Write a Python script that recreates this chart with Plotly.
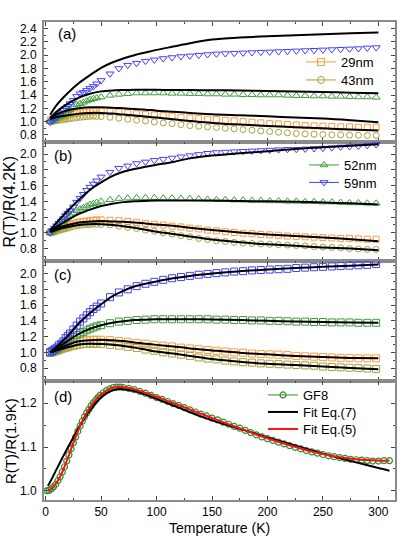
import plotly.graph_objects as go
from plotly.subplots import make_subplots

FONT = "Liberation Sans, Arial, sans-serif"

# ---------------- data ----------------
T_data = [4, 6, 8, 10, 12, 14, 16, 18, 20, 22, 25, 28, 31, 34, 37, 40, 43, 46,
          50, 58, 66, 74, 82, 90, 98, 106, 114, 122, 130, 138, 146, 154, 162, 170,
          178, 186, 194, 202, 210, 218, 226, 234, 242, 250, 258, 266, 274, 282, 290, 298]
T_fit = [4, 10, 20, 30, 40, 50, 60, 70, 80, 90, 100, 115, 130, 150, 175, 200, 225, 250, 275, 300]

# panel (a)
a_29 = [1.02, 1.03, 1.04, 1.05, 1.06, 1.07, 1.08, 1.09, 1.10, 1.11,
        1.12, 1.13, 1.14, 1.145, 1.15, 1.155, 1.155, 1.155,
        1.155, 1.15, 1.14, 1.13, 1.12, 1.11, 1.10, 1.09, 1.08, 1.065,
        1.055, 1.045, 1.035, 1.03, 1.02, 1.01, 1.00, 0.99, 0.98, 0.97,
        0.965, 0.955, 0.95, 0.94, 0.935, 0.93, 0.925, 0.92, 0.92, 0.915,
        0.915, 0.915]
a_43 = [1.00, 1.00, 1.01, 1.015, 1.02, 1.025, 1.03, 1.035, 1.04, 1.045,
        1.05, 1.06, 1.065, 1.07, 1.075, 1.08, 1.08, 1.08,
        1.075, 1.065, 1.05, 1.035, 1.02, 1.01, 0.995, 0.98, 0.97, 0.955,
        0.94, 0.93, 0.92, 0.91, 0.90, 0.89, 0.88, 0.87, 0.86, 0.85,
        0.84, 0.83, 0.82, 0.815, 0.81, 0.805, 0.80, 0.80, 0.795, 0.795,
        0.79, 0.79]
a_52 = [1.00, 1.01, 1.03, 1.05, 1.07, 1.09, 1.11, 1.13, 1.16, 1.18,
        1.22, 1.25, 1.27, 1.29, 1.31, 1.33, 1.345, 1.355,
        1.37, 1.395, 1.41, 1.42, 1.43, 1.43, 1.43, 1.43, 1.425, 1.425,
        1.42, 1.42, 1.415, 1.415, 1.41, 1.41, 1.405, 1.405, 1.40, 1.40,
        1.40, 1.395, 1.39, 1.39, 1.385, 1.385, 1.38, 1.38, 1.375, 1.37,
        1.37, 1.365]
a_59 = [0.99, 1.01, 1.04, 1.07, 1.10, 1.13, 1.17, 1.20, 1.23, 1.27,
        1.32, 1.38, 1.42, 1.44, 1.47, 1.50, 1.53, 1.57,
        1.62, 1.72, 1.80, 1.85, 1.88, 1.91, 1.93, 1.95, 1.965, 1.98,
        1.99, 2.00, 2.01, 2.02, 2.025, 2.03, 2.035, 2.04, 2.045, 2.05,
        2.055, 2.06, 2.065, 2.07, 2.075, 2.08, 2.085, 2.09, 2.095, 2.10,
        2.11, 2.115]
fa_29 = [1.06, 1.11, 1.17, 1.20, 1.215, 1.215, 1.21, 1.20, 1.19, 1.18, 1.165, 1.15, 1.13, 1.11, 1.095, 1.08, 1.06, 1.045, 1.02, 0.99]
fa_43 = [1.04, 1.07, 1.095, 1.12, 1.13, 1.13, 1.12, 1.105, 1.09, 1.075, 1.06, 1.035, 1.01, 0.98, 0.955, 0.935, 0.915, 0.90, 0.88, 0.865]
fa_52 = [1.05, 1.15, 1.27, 1.36, 1.42, 1.455, 1.47, 1.475, 1.478, 1.478, 1.478, 1.476, 1.475, 1.472, 1.468, 1.462, 1.455, 1.445, 1.435, 1.425]
fa_59 = [1.10, 1.25, 1.43, 1.58, 1.70, 1.81, 1.89, 1.95, 2.00, 2.04, 2.08, 2.13, 2.18, 2.235, 2.265, 2.285, 2.30, 2.315, 2.33, 2.34]

# panel (b)
b_29 = [1.01, 1.02, 1.03, 1.04, 1.05, 1.06, 1.075, 1.09, 1.10, 1.11,
        1.12, 1.13, 1.14, 1.145, 1.15, 1.155, 1.16, 1.165,
        1.165, 1.16, 1.155, 1.145, 1.135, 1.12, 1.11, 1.10, 1.085, 1.075,
        1.06, 1.05, 1.035, 1.025, 1.015, 1.005, 0.995, 0.99, 0.98, 0.975,
        0.97, 0.96, 0.955, 0.95, 0.945, 0.94, 0.935, 0.93, 0.93, 0.925,
        0.92, 0.92]
b_43 = [1.00, 1.00, 1.01, 1.02, 1.03, 1.04, 1.045, 1.055, 1.06, 1.07,
        1.08, 1.09, 1.095, 1.10, 1.105, 1.105, 1.11, 1.11,
        1.105, 1.10, 1.085, 1.07, 1.055, 1.035, 1.02, 1.00, 0.985, 0.965,
        0.95, 0.93, 0.915, 0.90, 0.89, 0.88, 0.87, 0.865, 0.86, 0.855,
        0.85, 0.845, 0.84, 0.835, 0.825, 0.82, 0.815, 0.81, 0.80, 0.795,
        0.79, 0.79]
b_52 = [1.00, 1.02, 1.04, 1.06, 1.09, 1.11, 1.14, 1.17, 1.20, 1.22,
        1.25, 1.28, 1.30, 1.32, 1.34, 1.36, 1.37, 1.385,
        1.40, 1.42, 1.435, 1.44, 1.445, 1.445, 1.445, 1.44, 1.44, 1.435,
        1.435, 1.43, 1.425, 1.42, 1.42, 1.415, 1.415, 1.41, 1.41, 1.405,
        1.405, 1.40, 1.40, 1.395, 1.395, 1.39, 1.39, 1.385, 1.38, 1.38,
        1.375, 1.375]
b_59 = [1.00, 1.03, 1.06, 1.09, 1.12, 1.15, 1.18, 1.22, 1.25, 1.28,
        1.33, 1.39, 1.44, 1.49, 1.54, 1.58, 1.62, 1.66,
        1.71, 1.77, 1.82, 1.85, 1.88, 1.90, 1.92, 1.935, 1.95, 1.965,
        1.98, 1.995, 2.01, 2.02, 2.025, 2.03, 2.035, 2.04, 2.045, 2.05,
        2.055, 2.06, 2.06, 2.065, 2.07, 2.075, 2.08, 2.09, 2.095, 2.10,
        2.11, 2.12]
fb_29 = [1.02, 1.06, 1.10, 1.13, 1.145, 1.15, 1.145, 1.14, 1.13, 1.12, 1.105, 1.09, 1.065, 1.035, 1.005, 0.98, 0.96, 0.94, 0.92, 0.895]
fb_43 = [1.01, 1.04, 1.075, 1.10, 1.11, 1.11, 1.10, 1.085, 1.065, 1.04, 1.015, 0.985, 0.955, 0.915, 0.88, 0.855, 0.835, 0.815, 0.80, 0.78]
fb_52 = [1.03, 1.08, 1.165, 1.24, 1.295, 1.34, 1.37, 1.39, 1.40, 1.405, 1.41, 1.41, 1.41, 1.41, 1.405, 1.40, 1.395, 1.385, 1.375, 1.36]
fb_59 = [1.03, 1.13, 1.28, 1.42, 1.545, 1.64, 1.72, 1.775, 1.81, 1.84, 1.865, 1.90, 1.945, 1.98, 2.01, 2.035, 2.065, 2.085, 2.105, 2.125]

# panel (c)
c_29 = [1.00, 1.01, 1.02, 1.03, 1.045, 1.055, 1.07, 1.085, 1.095, 1.105,
        1.12, 1.13, 1.14, 1.15, 1.155, 1.16, 1.16, 1.16,
        1.16, 1.155, 1.145, 1.135, 1.12, 1.11, 1.095, 1.085, 1.075, 1.06,
        1.05, 1.04, 1.03, 1.02, 1.01, 1.00, 0.995, 0.985, 0.98, 0.975,
        0.97, 0.965, 0.955, 0.95, 0.945, 0.94, 0.935, 0.93, 0.93, 0.925,
        0.925, 0.925]
c_43 = [1.00, 1.00, 1.01, 1.02, 1.03, 1.04, 1.05, 1.06, 1.065, 1.075,
        1.085, 1.09, 1.10, 1.105, 1.11, 1.11, 1.11, 1.11,
        1.105, 1.095, 1.085, 1.07, 1.055, 1.035, 1.02, 1.00, 0.985, 0.97,
        0.955, 0.935, 0.92, 0.91, 0.895, 0.885, 0.875, 0.87, 0.86, 0.855,
        0.85, 0.845, 0.84, 0.835, 0.83, 0.82, 0.815, 0.81, 0.805, 0.80,
        0.795, 0.79]
c_52 = [1.00, 1.01, 1.03, 1.04, 1.06, 1.08, 1.10, 1.125, 1.145, 1.165,
        1.19, 1.22, 1.24, 1.26, 1.28, 1.30, 1.315, 1.33,
        1.345, 1.37, 1.39, 1.40, 1.41, 1.415, 1.42, 1.42, 1.42, 1.42,
        1.42, 1.42, 1.42, 1.415, 1.415, 1.41, 1.41, 1.405, 1.405, 1.40,
        1.40, 1.395, 1.39, 1.39, 1.385, 1.385, 1.38, 1.38, 1.38, 1.375,
        1.375, 1.375]
c_59 = [1.00, 1.02, 1.04, 1.06, 1.09, 1.11, 1.14, 1.18, 1.21, 1.24,
        1.29, 1.34, 1.39, 1.43, 1.47, 1.51, 1.55, 1.58,
        1.62, 1.70, 1.76, 1.80, 1.84, 1.87, 1.895, 1.92, 1.94, 1.955,
        1.97, 1.985, 1.995, 2.005, 2.015, 2.025, 2.03, 2.04, 2.045, 2.05,
        2.055, 2.06, 2.07, 2.075, 2.08, 2.085, 2.09, 2.095, 2.10, 2.105,
        2.11, 2.12]
fc_29 = [1.00, 1.03, 1.095, 1.14, 1.155, 1.16, 1.155, 1.145, 1.125, 1.11, 1.095, 1.075, 1.05, 1.025, 0.995, 0.975, 0.955, 0.94, 0.93, 0.925]
fc_43 = [1.00, 1.025, 1.065, 1.10, 1.11, 1.105, 1.095, 1.08, 1.06, 1.035, 1.01, 0.985, 0.955, 0.915, 0.88, 0.855, 0.84, 0.82, 0.80, 0.785]
fc_52 = [1.00, 1.045, 1.145, 1.235, 1.30, 1.345, 1.375, 1.395, 1.41, 1.415, 1.42, 1.42, 1.42, 1.418, 1.41, 1.40, 1.39, 1.385, 1.38, 1.375]
fc_59 = [1.00, 1.07, 1.21, 1.37, 1.50, 1.61, 1.71, 1.78, 1.835, 1.87, 1.90, 1.94, 1.97, 2.00, 2.03, 2.05, 2.07, 2.085, 2.10, 2.115]

# panel (d)
T_gf8 = [1, 3, 5, 7, 9, 11, 13, 15, 17, 19, 21, 23, 25, 27, 29, 31, 33, 35, 37, 39,
         41, 43, 45, 47, 49, 52, 55, 58, 61, 64, 67, 70, 75, 80, 85, 90, 95, 100, 105, 110,
         115, 120, 125, 130, 135, 140, 145, 150, 155, 160, 165, 170, 175, 180, 185, 190, 195, 200, 205, 210,
         215, 220, 225, 230, 235, 240, 245, 250, 255, 260, 265, 270, 275, 280, 285, 290, 295, 300, 305, 310]
gf8 = [1.000, 1.001, 1.004, 1.009, 1.015, 1.023, 1.032, 1.043, 1.055, 1.068,
       1.082, 1.096, 1.110, 1.123, 1.136, 1.148, 1.159, 1.169, 1.178, 1.186,
       1.194, 1.201, 1.207, 1.213, 1.218, 1.224, 1.229, 1.233, 1.236, 1.237,
       1.237, 1.236, 1.234, 1.231, 1.227, 1.223, 1.218, 1.213, 1.209, 1.204,
       1.199, 1.195, 1.190, 1.185, 1.180, 1.175, 1.171, 1.166, 1.162, 1.157,
       1.152, 1.147, 1.143, 1.138, 1.133, 1.128, 1.123, 1.119, 1.115, 1.111,
       1.107, 1.103, 1.099, 1.096, 1.092, 1.089, 1.086, 1.083, 1.080, 1.078,
       1.076, 1.074, 1.072, 1.071, 1.070, 1.069, 1.068, 1.068, 1.069, 1.069]
T_fitd = [2, 5, 10, 15, 20, 25, 30, 35, 40, 45, 50, 55, 60, 65, 70, 80, 90, 100,
          120, 140, 160, 180, 200, 220, 240, 260, 280, 300, 310]
fit_eq5 = [1.000, 1.004, 1.019, 1.043, 1.075, 1.110, 1.142, 1.169, 1.190, 1.207, 1.220, 1.229,
           1.235, 1.237, 1.237, 1.232, 1.224, 1.215, 1.196, 1.176, 1.157, 1.138, 1.120, 1.104,
           1.090, 1.079, 1.072, 1.069, 1.069]
fit_eq7 = [1.011, 1.025, 1.050, 1.075, 1.099, 1.122, 1.145, 1.166, 1.184, 1.200, 1.213, 1.223,
           1.229, 1.232, 1.232, 1.228, 1.220, 1.210, 1.190, 1.170, 1.153, 1.138, 1.122, 1.107,
           1.092, 1.078, 1.065, 1.052, 1.046]

x_ticks = [0, 50, 100, 150, 200, 250, 300]

# ---------------- styles ----------------
C_OR = "#FF9A3C"
C_OL = "#A6A23E"
C_GR = "#3C9C3C"
C_BL = "#3F3FFF"
C_GF = "#2E8F2E"

# page coordinates of the plot area
L, R, TOP, BOT = 44, 395, 22, 500
W, H = R - L, BOT - TOP
FIG_W, FIG_H = 415, 537


def px(x):
    return (x - L) / W


def py(y):
    return (BOT - y) / H


fig = make_subplots(rows=4, cols=1, shared_xaxes=True, vertical_spacing=0)

# name, colour, symbol, legend id, legend x (left), legend row centre y
series_style = [
    ("29nm", C_OR, "square-open", "legend", 301, 62),
    ("43nm", C_OL, "circle-open", "legend2", 301, 80),
    ("52nm", C_GR, "triangle-up-open", "legend3", 304, 165),
    ("59nm", C_BL, "triangle-down-open", "legend4", 304, 182.5),
]

panels = [
    (1, [a_29, a_43, a_52, a_59], [fa_29, fa_43, fa_52, fa_59], False),
    (2, [b_29, b_43, b_52, b_59], [fb_29, fb_43, fb_52, fb_59], False),
    (3, [c_29, c_43, c_52, c_59], [fc_29, fc_43, fc_52, fc_59], True),
]

for row, data, fits, squares in panels:
    for (name, col, sym, lg, lx, ly), ys in zip(series_style, data):
        s = "square-open" if squares else sym
        size = 7 if squares else (7 if "triangle" in sym else 6)
        fig.add_trace(go.Scatter(x=T_data, y=ys, mode="markers", showlegend=False,
                                 marker=dict(symbol=s, size=size, color=col,
                                             line=dict(width=1, color=col))),
                      row=row, col=1)
    for ys in fits:
        fig.add_trace(go.Scatter(x=T_fit, y=ys, mode="lines", showlegend=False,
                                 line=dict(color="black", width=2, shape="spline", smoothing=0.8)),
                      row=row, col=1)

# legend entries (a) and (b)
for name, col, sym, lg, lx, ly in series_style:
    row = 1 if lg in ("legend", "legend2") else 2
    fig.add_trace(go.Scatter(x=[None], y=[None], mode="lines+markers", name=name, legend=lg,
                             marker=dict(symbol=sym, size=7, color=col, line=dict(width=1, color=col)),
                             line=dict(color=col, width=1)),
                  row=row, col=1)

# panel (d)
fig.add_trace(go.Scatter(x=T_gf8, y=gf8, mode="lines+markers", name="GF8", legend="legend5",
                         marker=dict(symbol="circle-open", size=6, color=C_GF, line=dict(width=1.2, color=C_GF)),
                         line=dict(color=C_GF, width=1)), row=4, col=1)
fig.add_trace(go.Scatter(x=T_fitd, y=fit_eq7, mode="lines", name="Fit Eq.(7)", legend="legend6",
                         line=dict(color="black", width=2, shape="spline", smoothing=0.8)), row=4, col=1)
fig.add_trace(go.Scatter(x=T_fitd, y=fit_eq5, mode="lines", name="Fit Eq.(5)", legend="legend7",
                         line=dict(color="#FF1010", width=2, shape="spline", smoothing=0.8)), row=4, col=1)

# ---------------- axes ----------------
axis_common = dict(showline=True, linecolor="#8a8a8a", linewidth=2, mirror="ticks",
                   ticks="inside", ticklen=4, tickwidth=1, tickcolor="#444",
                   showgrid=False, zeroline=False,
                   tickfont=dict(family=FONT, size=12, color="black"))

for r in range(1, 5):
    fig.update_xaxes(range=[-1.5, 315], tickvals=x_ticks,
                     minor=dict(dtick=25, tick0=0, ticklen=2, ticks="inside", tickcolor="#444"),
                     showticklabels=(r == 4), row=r, col=1, **axis_common)

yr = {1: [0.70, 2.50], 2: [0.643, 2.159], 3: [0.643, 2.159], 4: [0.979, 1.252]}
for r in range(1, 4):
    fig.update_yaxes(range=yr[r], dtick=0.2, tick0=0.8, tickformat=".1f",
                     minor=dict(dtick=0.1, tick0=0.8, ticklen=2, ticks="inside", tickcolor="#444"),
                     ticklabelstandoff=3, row=r, col=1, **axis_common)
fig.update_yaxes(range=yr[4], dtick=0.1, tick0=1.0, tickformat=".1f",
                 minor=dict(dtick=0.05, tick0=1.0, ticklen=2, ticks="inside", tickcolor="#444"),
                 ticklabelstandoff=3, row=4, col=1, **axis_common)


def leg(x, y):
    return dict(x=px(x), y=py(y), xanchor="left", yanchor="middle", bgcolor="rgba(0,0,0,0)",
                font=dict(family=FONT, size=13, color="black"), itemwidth=30,
                tracegroupgap=0)


legends = {lg: leg(lx, ly) for name, col, sym, lg, lx, ly in series_style}
legends["legend5"] = leg(263, 395)
legends["legend6"] = leg(263, 412)
legends["legend7"] = leg(263, 429)

fig.update_layout(
    width=FIG_W, height=FIG_H,
    margin=dict(l=L, r=FIG_W - R, t=TOP, b=FIG_H - BOT, pad=0),
    paper_bgcolor="white", plot_bgcolor="white",
    font=dict(family=FONT, size=12, color="black"),
    **legends,
)

annots = [
    dict(text="(a)", x=px(66.7), y=py(33.3), size=15),
    dict(text="(b)", x=px(62.5), y=py(155.7), size=15),
    dict(text="(c)", x=px(62.5), y=py(274), size=15),
    dict(text="(d)", x=px(62.5), y=py(396), size=15),
]
for a in annots:
    fig.add_annotation(text=a["text"], x=a["x"], y=a["y"], xref="paper", yref="paper",
                       showarrow=False, xanchor="center", yanchor="middle",
                       font=dict(family=FONT, size=a["size"], color="black"))

fig.add_annotation(text="R(T)/R(4.2K)", x=px(8.5), y=py(202), xref="paper", yref="paper",
                   showarrow=False, textangle=-90, xanchor="center", yanchor="middle",
                   font=dict(family=FONT, size=16, color="black"))
fig.add_annotation(text="R(T)/R(1.9K)", x=px(10), y=py(441), xref="paper", yref="paper",
                   showarrow=False, textangle=-90, xanchor="center", yanchor="middle",
                   font=dict(family=FONT, size=15, color="black"))
fig.add_annotation(text="Temperature (K)", x=0.5, y=py(527.5), xref="paper", yref="paper",
                   showarrow=False, xanchor="center", yanchor="middle",
                   font=dict(family=FONT, size=14, color="black"))

# remove the default 8px page margin so the figure fills the window exactly
fig.write_html("out.html", config={"displayModeBar": False},
               post_script="document.body.style.margin='0';document.body.style.overflow='hidden';")
